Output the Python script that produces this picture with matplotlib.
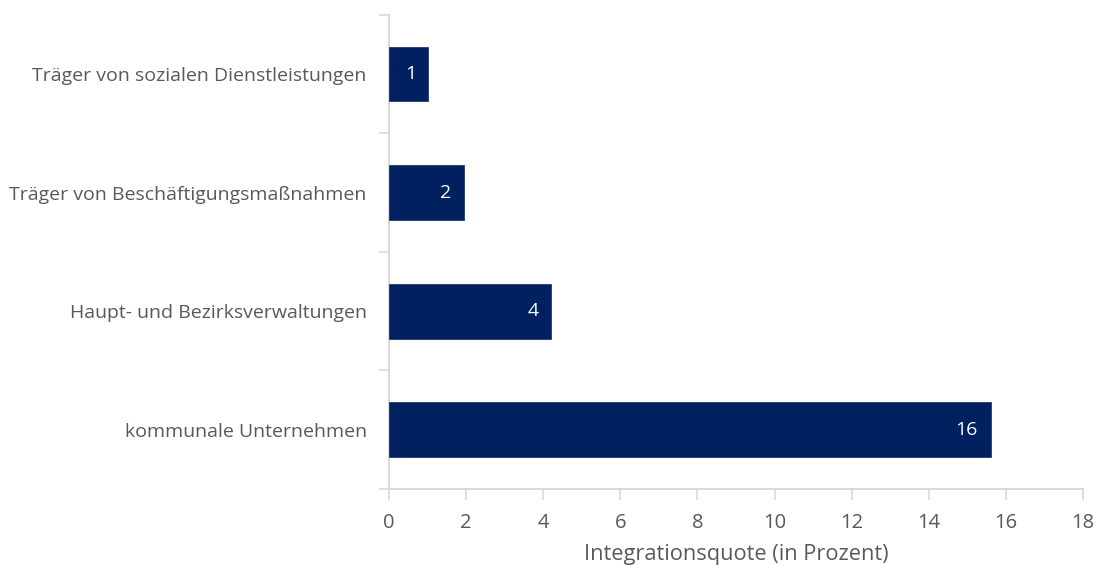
import matplotlib
matplotlib.use("Agg")
import matplotlib.pyplot as plt
from matplotlib.ticker import FixedLocator

categories = [
    "kommunale Unternehmen",
    "Haupt- und Bezirksverwaltungen",
    "Träger von Beschäftigungsmaßnahmen",
    "Träger von sozialen Dienstleistungen",
]
values = [15.6, 4.2, 1.95, 1.02]
x_ticks = [0, 2, 4, 6, 8, 10, 12, 14, 16, 18]
x_label = "Integrationsquote (in Prozent)"

bar_color = "#002060"
text_color = "#595959"
axis_color = "#d9d9d9"

plt.rcParams["font.family"] = ["Open Sans", "DejaVu Sans"]

fig = plt.figure(figsize=(11.01, 5.65), dpi=100)
ax = fig.add_axes([0.3533, 0.1345, 0.6304, 0.839])

pos = list(range(len(categories)))
ax.barh(pos, values, height=0.46, color=bar_color, edgecolor="#1f3a6e", linewidth=0.6, zorder=3)

for p, v in zip(pos, values):
    ax.annotate(f"{v:.0f}", xy=(v, p), xytext=(-9, 0), textcoords="offset points",
                ha="right", va="center", color="white", fontsize=14, zorder=4)

ax.set_xlim(0, 18)
ax.set_ylim(-0.5, len(categories) - 0.5)
ax.set_xticks(x_ticks)
ax.set_xticklabels([str(t) for t in x_ticks])
ax.set_yticks(pos)
ax.set_yticklabels(categories)
ax.yaxis.set_minor_locator(FixedLocator([i - 0.5 for i in range(len(categories) + 1)]))

ax.tick_params(axis="y", which="major", length=0, pad=16, labelsize=14, labelcolor=text_color)
ax.tick_params(axis="y", which="minor", length=7, width=1.2, color=axis_color, direction="out")
ax.tick_params(axis="x", which="major", length=8, width=1.2, color=axis_color, direction="out",
               pad=9, labelsize=14.5, labelcolor=text_color)

for side in ("top", "right"):
    ax.spines[side].set_visible(False)
for side in ("left", "bottom"):
    ax.spines[side].set_color(axis_color)
    ax.spines[side].set_linewidth(1.4)

ax.set_xlabel(x_label, fontsize=15.7, color=text_color, labelpad=8)

fig.savefig("out.png", dpi=100, facecolor="white")
